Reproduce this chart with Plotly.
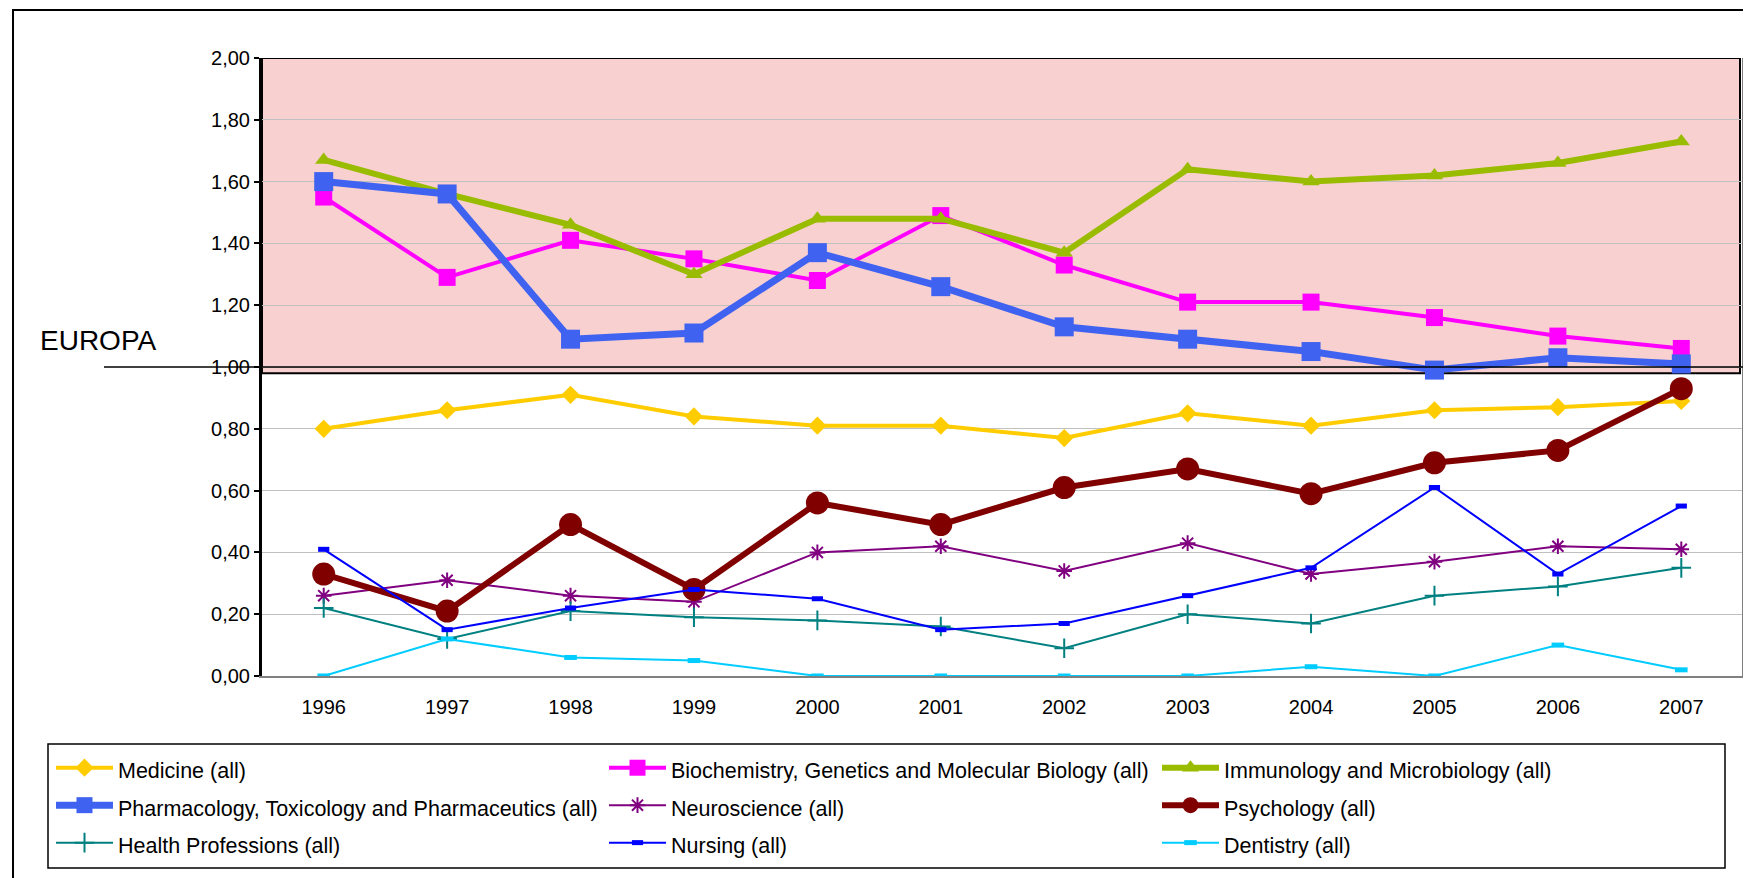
import plotly.graph_objects as go

annees = ['1996', '1997', '1998', '1999', '2000', '2001', '2002', '2003', '2004', '2005', '2006', '2007']

medicine = [0.80, 0.86, 0.91, 0.84, 0.81, 0.81, 0.77, 0.85, 0.81, 0.86, 0.87, 0.89]
biochemistry = [1.55, 1.29, 1.41, 1.35, 1.28, 1.49, 1.33, 1.21, 1.21, 1.16, 1.10, 1.06]
immunology = [1.67, 1.56, 1.46, 1.30, 1.48, 1.48, 1.37, 1.64, 1.60, 1.62, 1.66, 1.73]
pharmacology = [1.60, 1.56, 1.09, 1.11, 1.37, 1.26, 1.13, 1.09, 1.05, 0.99, 1.03, 1.01]
neuroscience = [0.26, 0.31, 0.26, 0.24, 0.40, 0.42, 0.34, 0.43, 0.33, 0.37, 0.42, 0.41]
psychology = [0.33, 0.21, 0.49, 0.28, 0.56, 0.49, 0.61, 0.67, 0.59, 0.69, 0.73, 0.93]
health = [0.22, 0.12, 0.21, 0.19, 0.18, 0.16, 0.09, 0.20, 0.17, 0.26, 0.29, 0.35]
nursing = [0.41, 0.15, 0.22, 0.28, 0.25, 0.15, 0.17, 0.26, 0.35, 0.61, 0.33, 0.55]
dentistry = [0.00, 0.12, 0.06, 0.05, 0.00, 0.00, 0.00, 0.00, 0.03, 0.00, 0.10, 0.02]

y_ticks = [0, 0.2, 0.4, 0.6, 0.8, 1.0, 1.2, 1.4, 1.6, 1.8, 2.0]

# (nom, valeurs, couleur, largeur trait, symbole, taille, largeur contour symbole)
series = [
    ('Medicine (all)', medicine, '#FFCC00', 4, 'diamond', 14, 0),
    ('Biochemistry, Genetics and Molecular Biology (all)', biochemistry, '#FF00FF', 4, 'square', 17, 0),
    ('Immunology and Microbiology (all)', immunology, '#99BB00', 6, 'triangle-up', 15, 0),
    ('Pharmacology, Toxicology and Pharmaceutics (all)', pharmacology, '#3F63F0', 7, 'square', 19, 0),
    ('Neuroscience (all)', neuroscience, '#800080', 2, 'asterisk-open', 13, 2),
    ('Psychology (all)', psychology, '#800000', 6, 'circle', 23, 0),
    ('Health Professions (all)', health, '#008080', 2, 'cross-thin-open', 14, 2),
    ('Nursing (all)', nursing, '#0000FF', 2, 'line-ew-open', 8, 5),
    ('Dentistry (all)', dentistry, '#00CCFF', 2, 'line-ew-open', 9, 5),
]

fig = go.Figure()
for nom, valeurs, couleur, lw, symbole, taille, mlw in series:
    fig.add_trace(go.Scatter(
        x=annees, y=valeurs, mode='lines+markers',
        name='<span style="font-size:21.5px">' + nom + '</span>',
        line=dict(color=couleur, width=lw),
        marker=dict(symbol=symbole, size=taille, color=couleur,
                    line=dict(color=couleur, width=mlw)),
    ))

# la page html ajoute une marge de 8 px autour de la figure
OFF = 8
# zone de tracé, en pixels de l'écran
XL, XR, YT, YB = 262, 1743, 58, 676


def px(x):
    return (x - XL) / (XR - XL)


def py(y):
    return (YB - y) / (YB - YT)


shapes = [
    # cadre extérieur
    dict(type='rect', xref='paper', yref='paper', x0=px(13), x1=px(1770), y0=py(10), y1=py(900),
         line=dict(color='black', width=2), fillcolor='rgba(0,0,0,0)', layer='below'),
    # zone rose au-dessus de 1,00
    dict(type='rect', xref='paper', yref='y', x0=0, x1=px(1740), y0=0.98, y1=2.0,
         line=dict(color='black', width=2), fillcolor='#F9D0D0', layer='below'),
    # bord de la zone de tracé
    dict(type='line', xref='paper', yref='paper', x0=1, x1=1, y0=0, y1=1,
         line=dict(color='#808080', width=2)),
    # ligne EUROPA
    dict(type='line', xref='paper', yref='y', x0=px(104), x1=1, y0=1.0, y1=1.0,
         line=dict(color='black', width=1.5)),
    # cadre de la légende
    dict(type='rect', xref='paper', yref='paper', x0=px(48), x1=px(1725), y0=py(744), y1=py(868),
         line=dict(color='black', width=1.5), fillcolor='white', layer='above'),
]

fig.update_layout(
    width=1751 - OFF, height=878 - OFF,
    margin=dict(l=XL - OFF, r=1751 - XR, t=YT - OFF, b=878 - YB, autoexpand=False),
    paper_bgcolor='white', plot_bgcolor='white',
    separators=', ',
    font=dict(family='Liberation Sans, Arial, sans-serif', color='black'),
    showlegend=True,
    legend=dict(orientation='h', x=px(51), y=py(744), xanchor='left', yanchor='top',
                itemwidth=57, entrywidth=481, entrywidthmode='pixels',
                borderwidth=0, bgcolor='rgba(0,0,0,0)',
                font=dict(size=26.5, family='Liberation Sans, Arial, sans-serif')),
    xaxis=dict(type='category', range=[-0.5, 11.5], showgrid=False, zeroline=False,
               showline=True, linecolor='#808080', linewidth=2, ticks='',
               ticklabelstandoff=12, tickfont=dict(size=20)),
    yaxis=dict(range=[0, 2.0], tickvals=y_ticks, tickformat='.2f', showgrid=True,
               gridcolor='#C0C0C0', gridwidth=1, zeroline=False,
               showline=True, linecolor='black', linewidth=3,
               ticks='outside', ticklen=5, tickwidth=2, tickcolor='black',
               tickfont=dict(size=20)),
    shapes=shapes,
    annotations=[dict(text='EUROPA', xref='paper', yref='y', x=px(38), y=1.085,
                      xanchor='left', yanchor='middle', showarrow=False,
                      font=dict(size=28))],
)

fig.write_html('out.html')
